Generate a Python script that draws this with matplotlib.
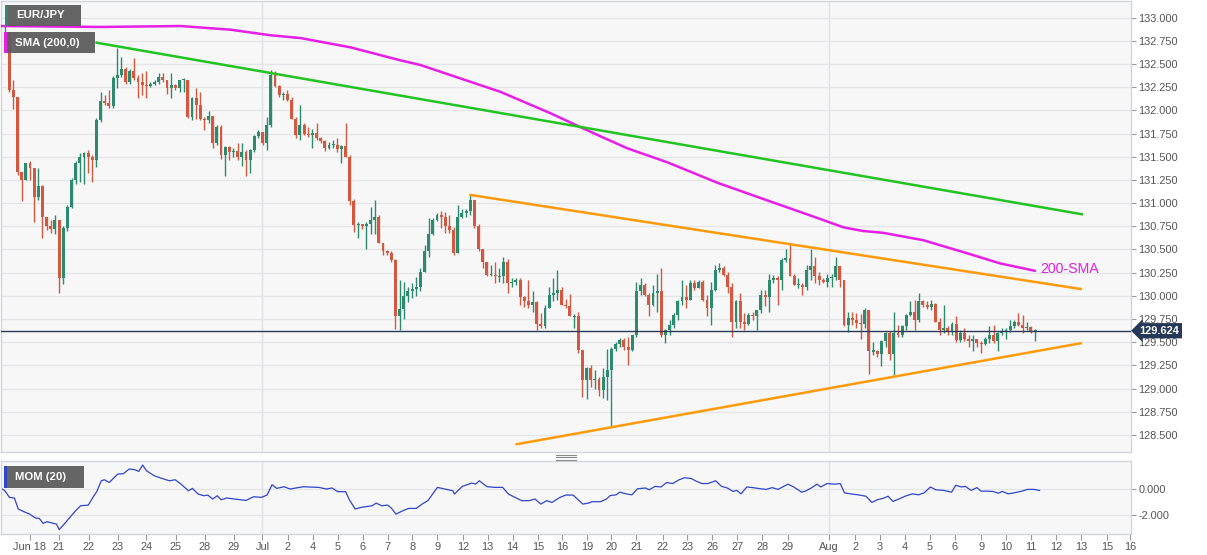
import numpy as np
import matplotlib
matplotlib.use("Agg")
import matplotlib.pyplot as plt
from matplotlib.patches import Rectangle
from matplotlib.lines import Line2D

# ---------------- data (EUR/JPY 4H candles) ----------------
first_open = 132.80
close = [
    132.85, 132.22, 132.15, 131.34, 131.25, 131.43, 131.38, 131.07, 131.18, 130.85,
    130.75, 130.72, 130.82, 130.19, 130.73, 130.96, 131.25, 131.43, 131.50, 131.54,
    131.50, 131.47, 131.90, 132.10, 132.08, 132.05, 132.35, 132.38, 132.45, 132.31,
    132.43, 132.35, 132.31, 132.27, 132.26, 132.29, 132.31, 132.36, 132.33, 132.24,
    132.27, 132.24, 132.33, 132.33, 131.93, 132.13, 132.06, 131.91, 131.90, 131.94,
    131.65, 131.82, 131.52, 131.61, 131.55, 131.56, 131.50, 131.55, 131.47, 131.57,
    131.72, 131.77, 131.65, 131.84, 132.38, 132.26, 132.17, 132.18, 132.11, 131.91,
    131.73, 131.84, 131.75, 131.73, 131.76, 131.70, 131.67, 131.60, 131.63, 131.63,
    131.58, 131.62, 131.50, 131.02, 130.76, 130.78, 130.75, 130.78, 130.82, 130.85,
    130.57, 130.48, 130.46, 130.39, 129.78, 129.86, 130.00, 130.05, 130.07, 130.10,
    130.26, 130.48, 130.67, 130.82, 130.87, 130.85, 130.75, 130.71, 130.46, 130.85,
    130.89, 130.91, 131.03, 130.75, 130.50, 130.37, 130.23, 130.23, 130.21, 130.21,
    130.37, 130.14, 130.15, 130.17, 129.99, 129.94, 129.90, 129.93, 129.70, 129.67,
    129.87, 130.01, 130.03, 130.06, 129.90, 129.89, 129.78, 129.78, 129.42, 129.09,
    129.22, 129.09, 129.10, 128.98, 129.12, 129.20, 129.43, 129.48, 129.52, 129.45,
    129.42, 129.58, 130.05, 130.12, 130.01, 129.90, 130.03, 130.05, 129.58, 129.63,
    129.69, 129.79, 129.94, 129.99, 129.96, 130.14, 130.08, 130.15, 129.96, 129.87,
    130.06, 130.28, 130.30, 130.23, 130.10, 129.72, 129.94, 129.72, 129.70, 129.79,
    129.78, 129.85, 130.01, 129.99, 130.17, 130.19, 130.17, 130.39, 130.41, 130.21,
    130.12, 130.12, 130.10, 130.28, 130.32, 130.21, 130.17, 130.15, 130.19, 130.20,
    130.32, 130.17, 129.69, 129.76, 129.74, 129.71, 129.70, 129.85, 129.40, 129.41,
    129.37, 129.51, 129.60, 129.37, 129.60, 129.58, 129.67, 129.79, 129.83, 129.74,
    129.94, 129.90, 129.88, 129.91, 129.72, 129.63, 129.65, 129.62, 129.70, 129.52,
    129.60, 129.54, 129.51, 129.54, 129.49, 129.48, 129.54, 129.58, 129.51, 129.60,
    129.62, 129.63, 129.67, 129.72, 129.69, 129.65, 129.66, 129.62, 129.624,
]
high = [
    132.92, 132.85, 132.33, 132.15, 131.34, 131.43, 131.45, 131.38, 131.38, 131.20,
    130.85, 130.82, 130.87, 130.82, 130.75, 130.98, 131.27, 131.45, 131.54, 131.55,
    131.57, 131.52, 131.92, 132.20, 132.17, 132.22, 132.37, 132.67, 132.58, 132.47,
    132.45, 132.57, 132.38, 132.40, 132.42, 132.31, 132.33, 132.40, 132.40, 132.33,
    132.40, 132.28, 132.33, 132.35, 132.33, 132.14, 132.24, 132.20, 131.93, 131.99,
    131.94, 131.84, 131.84, 131.62, 131.62, 131.60, 131.65, 131.65, 131.57, 131.58,
    131.73, 131.79, 131.77, 131.93, 132.44, 132.42, 132.27, 132.20, 132.22, 132.15,
    131.93, 132.06, 131.86, 131.82, 131.80, 131.86, 131.71, 131.68, 131.66, 131.68,
    131.70, 131.63, 131.86, 131.52, 131.04, 130.80, 130.78, 130.80, 130.96, 131.03,
    130.87, 130.57, 130.49, 130.48, 130.40, 130.17, 130.15, 130.10, 130.14, 130.20,
    130.30, 130.55, 130.84, 130.84, 130.89, 130.91, 130.90, 130.87, 130.74, 130.98,
    130.94, 130.94, 131.09, 131.03, 130.78, 130.50, 130.37, 130.33, 130.37, 130.30,
    130.42, 130.40, 130.19, 130.19, 130.19, 130.00, 130.17, 130.05, 129.94, 129.81,
    129.90, 130.10, 130.19, 130.28, 130.10, 129.97, 130.02, 129.80, 129.83, 129.42,
    129.23, 129.25, 129.20, 129.12, 129.22, 129.43, 129.45, 129.50, 129.55, 129.55,
    129.56, 129.58, 130.15, 130.19, 130.14, 130.03, 130.12, 130.24, 130.30, 129.64,
    129.74, 129.81, 129.96, 130.17, 130.12, 130.17, 130.17, 130.17, 130.17, 130.01,
    130.15, 130.33, 130.35, 130.32, 130.26, 130.14, 129.96, 130.03, 129.81, 129.81,
    129.83, 129.85, 130.06, 130.06, 130.24, 130.23, 130.21, 130.41, 130.50, 130.57,
    130.24, 130.19, 130.14, 130.33, 130.51, 130.42, 130.26, 130.19, 130.24, 130.24,
    130.42, 130.32, 130.17, 129.83, 129.83, 129.81, 129.80, 129.87, 129.85, 129.50,
    129.42, 129.52, 129.61, 129.62, 129.83, 129.69, 129.69, 129.80, 129.94, 129.96,
    130.03, 129.96, 129.94, 129.96, 129.92, 129.76, 129.90, 129.67, 129.72, 129.78,
    129.63, 129.65, 129.58, 129.58, 129.54, 129.51, 129.56, 129.67, 129.69, 129.61,
    129.65, 129.65, 129.74, 129.74, 129.81, 129.79, 129.72, 129.67, 129.64,
]
low = [
    132.75, 132.20, 132.02, 131.30, 131.02, 131.25, 131.25, 130.80, 131.03, 130.62,
    130.71, 130.68, 130.67, 130.03, 130.13, 130.70, 130.95, 131.21, 131.23, 131.21,
    131.32, 131.23, 131.39, 131.88, 132.06, 132.03, 132.03, 132.24, 132.36, 132.29,
    132.29, 132.33, 132.13, 132.17, 132.13, 132.25, 132.27, 132.29, 132.31, 132.18,
    132.13, 132.22, 132.20, 132.20, 131.92, 131.90, 131.91, 131.90, 131.79, 131.86,
    131.59, 131.63, 131.48, 131.29, 131.47, 131.50, 131.47, 131.40, 131.29, 131.32,
    131.55, 131.70, 131.63, 131.57, 131.82, 132.25, 132.15, 132.11, 132.10, 131.91,
    131.70, 131.68, 131.73, 131.71, 131.59, 131.68, 131.65, 131.56, 131.58, 131.60,
    131.55, 131.43, 131.50, 130.98, 130.69, 130.62, 130.72, 130.50, 130.67, 130.67,
    130.57, 130.44, 130.44, 130.36, 129.64, 129.63, 129.75, 129.93, 129.98, 130.00,
    130.05, 130.26, 130.42, 130.66, 130.81, 130.73, 130.68, 130.68, 130.44, 130.46,
    130.84, 130.85, 130.87, 130.73, 130.48, 130.30, 130.21, 130.21, 130.14, 130.15,
    130.14, 130.03, 130.10, 130.12, 129.90, 129.88, 129.87, 129.83, 129.63, 129.65,
    129.65, 129.87, 129.94, 129.96, 129.90, 129.87, 129.78, 129.65, 129.38, 128.91,
    128.89, 129.02, 129.00, 128.92, 128.90, 128.88, 128.59, 129.40, 129.45, 129.42,
    129.25, 129.40, 129.56, 130.01, 130.00, 129.78, 129.89, 129.83, 129.56, 129.49,
    129.58, 129.65, 129.74, 129.90, 129.87, 129.96, 130.06, 130.08, 129.94, 129.78,
    129.69, 130.05, 130.26, 130.21, 130.03, 129.56, 129.65, 129.65, 129.63, 129.69,
    129.74, 129.63, 129.81, 129.89, 129.83, 130.14, 129.90, 130.06, 130.37, 130.21,
    130.12, 130.08, 130.01, 130.06, 130.17, 130.14, 130.12, 130.14, 130.10, 130.10,
    130.17, 130.10, 129.67, 129.61, 129.69, 129.65, 129.54, 129.65, 129.16, 129.36,
    129.34, 129.24, 129.45, 129.31, 129.15, 129.56, 129.56, 129.63, 129.78, 129.63,
    129.72, 129.88, 129.86, 129.85, 129.72, 129.58, 129.60, 129.58, 129.58, 129.50,
    129.50, 129.51, 129.45, 129.40, 129.45, 129.38, 129.47, 129.49, 129.49, 129.40,
    129.58, 129.54, 129.61, 129.65, 129.67, 129.60, 129.63, 129.60, 129.51,
]

# 200-period SMA : candle index, price
sma_idx = [-1, 23, 42.3, 54.4, 64, 71.2, 83.2, 95.2, 100, 107.3, 119.3, 131.3, 139.0,
           143.4, 149.9, 159.5, 171.5, 183.5, 195.6, 201.8, 206.5, 211.4, 221.1, 231.6,
           239.6, 248]
sma_val = [132.91, 132.90, 132.91, 132.87, 132.81, 132.78, 132.68, 132.54, 132.49, 132.38,
           132.20, 131.97, 131.81, 131.72, 131.59, 131.44, 131.22, 131.03, 130.84, 130.74,
           130.70, 130.68, 130.60, 130.46, 130.35, 130.27]

# Momentum (20) : candle index, value
mom_idx = [-0.98, -0.06, 1.05, 2.25, 3.17, 4.55, 5.93, 7.32, 8.24, 9.16, 10.08, 11.47, 12.39,
           13.03, 14.23, 15.61, 17.0, 18.19, 20.04, 21.15, 22.07, 23.17, 23.9, 25.1, 27.14,
           28.5, 29.9, 31.28, 32.2, 33.13, 34.05, 35.9, 37.73, 39.58, 40.96, 42.34, 44.18,
           45.1, 46.49, 47.87, 48.8, 50.0, 51.1, 52.0, 53.4, 55.24, 58.0, 59.85, 61.7, 63.08,
           64.28, 65.4, 67.2, 68.6, 70.0, 71.84, 73.7, 75.5, 77.4, 78.75, 80.1, 82.0, 82.9,
           84.3, 85.7, 88.4, 89.35, 90.7, 92.1, 93.0, 94.1, 95.8, 97.2, 99.0, 100.4, 101.8,
           104.1, 105.9, 107.8, 108.2, 110.1, 112.4, 113.3, 114.2, 115.2, 116.1, 117.9, 119.8,
           121.2, 122.5, 124.4, 126.2, 127.6, 129.0, 130.4, 131.7, 133.6, 135.0, 136.8, 139.1,
           140.5, 141.4, 143.36, 144.8, 145.7, 147.1, 148.05, 149.5, 150.9, 152.3, 154.2,
           155.1, 156.5, 157.9, 159.3, 160.75, 162.1, 163.6, 165.2, 166.4, 167.8, 169.2,
           171.1, 172.5, 173.9, 175.3, 176.2, 177.2, 178.6, 180.0, 181.9, 183.3, 184.7,
           186.1, 187.5, 188.5, 189.9, 191.8, 192.7, 194.1, 195.5, 196.4, 197.9, 199.7,
           201.1, 202.1, 203.5, 205.4, 207.3, 208.7, 210.1, 211.5, 212.6, 213.8, 215.2,
           216.7, 218.5, 219.95, 221.3, 222.8, 224.1, 226.0, 227.9, 228.9, 230.3, 231.2,
           232.6, 234.0, 235.0, 236.4, 237.8, 239.2, 240.1, 241.5, 243.0, 244.8, 246.2,
           247.7, 249.1]
mom_val = [0.08, -0.10, -0.63, -0.68, -1.55, -1.76, -1.95, -2.26, -2.29, -2.68, -2.55, -2.66,
           -2.74, -3.18, -2.74, -2.21, -1.68, -1.29, -1.24, -0.63, -0.18, 0.68, 0.76, 0.55,
           1.21, 1.24, 1.61, 1.55, 1.42, 1.92, 1.47, 1.08, 0.87, 0.68, 0.76, 0.42, -0.11,
           0.08, -0.37, -0.50, -0.45, -0.76, -0.50, -0.82, -0.68, -0.76, -0.87, -0.58, -0.63,
           -0.45, 0.37, 0.08, 0.21, 0.03, 0.11, 0.21, 0.18, 0.16, 0.03, 0.11, -0.18, -0.18,
           -0.82, -1.55, -1.42, -1.29, -1.08, -1.29, -1.24, -1.47, -1.95, -1.68, -1.50, -1.50,
           -1.16, -0.89, 0.16, 0.03, -0.11, -0.37, 0.24, 0.50, 0.42, 0.68, 0.42, 0.21, 0.16,
           0.16, -0.37, -0.58, -0.89, -0.89, -0.76, -1.16, -0.89, -1.03, -0.63, -0.45, -0.45,
           -1.16, -1.08, -0.97, -0.97, -0.76, -0.49, -0.43, -0.22, -0.35, -0.43, 0.05, 0.11,
           -0.03, 0.24, 0.19, 0.54, 0.46, 0.73, 0.92, 0.86, 0.65, 0.46, 0.46, 0.68, 0.24, 0.11,
           -0.16, -0.08, -0.35, 0.19, 0.14, 0.05, 0.00, 0.14, 0.00, 0.24, 0.41, 0.19, -0.22,
           -0.14, 0.11, 0.41, 0.19, 0.46, 0.41, 0.46, -0.27, -0.35, -0.43, -0.54, -1.03, -0.81,
           -0.70, -0.54, -0.95, -0.76, -0.54, -0.35, -0.43, -0.27, 0.19, -0.03, -0.08, -0.22,
           0.32, 0.19, 0.24, -0.08, 0.14, -0.14, -0.14, -0.16, -0.30, -0.16, -0.35, -0.27,
           -0.14, 0.00, 0.00, -0.08]

# trend lines: (start index, end index), (start price, end price)
green_x, green_y = [22.05, 259.3], [132.73, 130.88]
upper_x, upper_y = [112.1, 259.0], [131.088, 130.074]
lower_x, lower_y = [123.2, 259.0], [128.40, 129.489]
last_price = 129.624

tick_pos = [5.93, 12.98, 20.12, 27.17, 34.05, 41.05, 48.05, 55.07, 61.98, 68.06, 74.08, 80.1,
            86.1, 92.1, 98.1, 104.1, 110.2, 116.2, 122.2, 128.3, 134.2, 140.2, 146.0, 152.0,
            158.3, 164.3, 170.3, 176.3, 182.3, 188.5, 198.4, 204.7, 210.7, 216.7, 222.7,
            228.7, 235.0, 241.0, 247.0, 253.0, 259.1, 265.3, 270.9]
tick_lab = ["Jun 18", "21", "22", "23", "24", "25", "28", "29", "Jul", "2", "4", "5", "6",
            "7", "8", "9", "12", "13", "14", "15", "16", "19", "20", "21", "22", "23", "26",
            "27", "28", "29", "Aug", "2", "3", "4", "5", "6", "9", "10", "11", "12", "13",
            "15", "16"]
month_pos = [61.98, 198.4]

# ---------------- styling ----------------
W, H = 1207, 555
GREEN = "#2e8a6f"
RED = "#d2583f"
BG = "#f7f7f8"
GRID = "#e4e5e8"
SPINE = "#d2d5dc"
TXT = "#555555"
FONT = "Liberation Sans"
plt.rcParams["font.family"] = [FONT, "DejaVu Sans"]

fig = plt.figure(figsize=(W / 100, H / 100), dpi=100)
fig.patch.set_facecolor("white")

ax = fig.add_axes([1 / W, (H - 452) / H, 1130 / W, 451 / H])
axm = fig.add_axes([1 / W, (H - 534) / H, 1130 / W, 73 / H], sharex=ax)

for a in (ax, axm):
    a.set_facecolor(BG)
    for s in a.spines.values():
        s.set_color(SPINE)
        s.set_linewidth(1)
    for mp in month_pos:
        a.axvline(mp, color="#e0e1e5", lw=1, zorder=0.5)

# candles
c = np.array(close)
h = np.array(high)
l = np.array(low)
o = np.concatenate([[first_open], c[:-1]])
idx = np.arange(len(c))
cols = np.where(c >= o, GREEN, RED)
ax.vlines(idx, l, h, colors=cols, lw=1, zorder=3)
body = np.abs(c - o)
minh = 0.012
bh = np.maximum(body, minh)
bb = np.minimum(o, c) - (bh - body) / 2
ax.bar(idx, bh, bottom=bb, width=0.7, color=cols, linewidth=0, zorder=3)

# SMA and trend lines
ax.plot(sma_idx, sma_val, color="#e61ee6", lw=1.8, zorder=4, solid_capstyle="round",
        solid_joinstyle="round")
ax.plot(green_x, green_y, color="#22c322", lw=1.8, zorder=4)
ax.plot(upper_x, upper_y, color="#ff9a0a", lw=1.8, zorder=4)
ax.plot(lower_x, lower_y, color="#ff9a0a", lw=1.8, zorder=4)
ax.text(249.3, 130.245, "200-SMA", color="#e61ee6", fontsize=10.2, va="baseline",
        ha="left", zorder=5)

# last price line
ax.axhline(last_price, color="#2a3a57", lw=1, zorder=4)

ax.set_xlim(-0.98, 271.1)
ax.set_ylim(128.316, 133.18)
ax.yaxis.tick_right()
yt = np.arange(128.5, 133.001, 0.25)
ax.set_yticks(yt)
ax.set_yticklabels([f"{v:.3f}" for v in yt])
ax.tick_params(axis="y", length=3.5, width=0.8, color="#999999", labelsize=7.9,
               labelcolor=TXT, pad=2)
ax.tick_params(axis="x", bottom=False, labelbottom=False)
ax.grid(axis="y", color=GRID, lw=0.9, zorder=0)
ax.set_axisbelow(True)

ax.text(1.0075, last_price, "129.624", transform=ax.get_yaxis_transform(), ha="left",
        va="center", color="white", fontsize=7.9, fontweight="bold", zorder=10,
        bbox=dict(boxstyle="larrow,pad=0.24", fc="#263858", ec="none"))

# momentum
axm.plot(mom_idx, mom_val, color="#2f46c8", lw=0.9)
axm.set_ylim(-3.52, 2.24)
axm.yaxis.tick_right()
axm.set_yticks([0, -2])
axm.set_yticklabels(["0.000", "-2.000"])
axm.tick_params(axis="y", length=3.5, width=0.8, color="#999999", labelsize=7.9,
                labelcolor=TXT, pad=2)
axm.grid(axis="y", color=GRID, lw=0.9)
axm.set_axisbelow(True)
axm.set_xticks(tick_pos)
axm.set_xticklabels(tick_lab)
axm.tick_params(axis="x", length=4, width=0.8, color="#999999", labelsize=7.9,
                labelcolor=TXT, pad=1.5)
axm.set_xlim(-0.98, 271.1)


def box(x0, y0, x1, y1, edge, text):
    fig.add_artist(Rectangle((x0 / W, 1 - y1 / H), (x1 - x0) / W, (y1 - y0) / H,
                             transform=fig.transFigure, fc="#5d5d5d", ec="none",
                             alpha=0.95, zorder=20))
    fig.add_artist(Rectangle((x0 / W, 1 - y1 / H), 3 / W, (y1 - y0) / H,
                             transform=fig.transFigure, fc=edge, ec="none", zorder=21))
    fig.text((x0 + 11) / W, 1 - ((y0 + y1) / 2) / H, text, color="white",
             fontsize=8.2, fontweight="bold", va="center", ha="left", zorder=22)


box(5, 5, 81, 26, GREEN, "EUR/JPY")
box(4, 32, 95, 53, "#e61ee6", "SMA (200,0)")
box(4, 466, 84, 488, "#2f46c8", "MOM (20)")

# panel resize handle
for yy in (454.5, 457, 459.5):
    fig.add_artist(Line2D([556 / W, 576 / W], [1 - yy / H, 1 - yy / H],
                          transform=fig.transFigure, color="#888888", lw=0.8))

fig.savefig("out.png", dpi=100, facecolor="white")
